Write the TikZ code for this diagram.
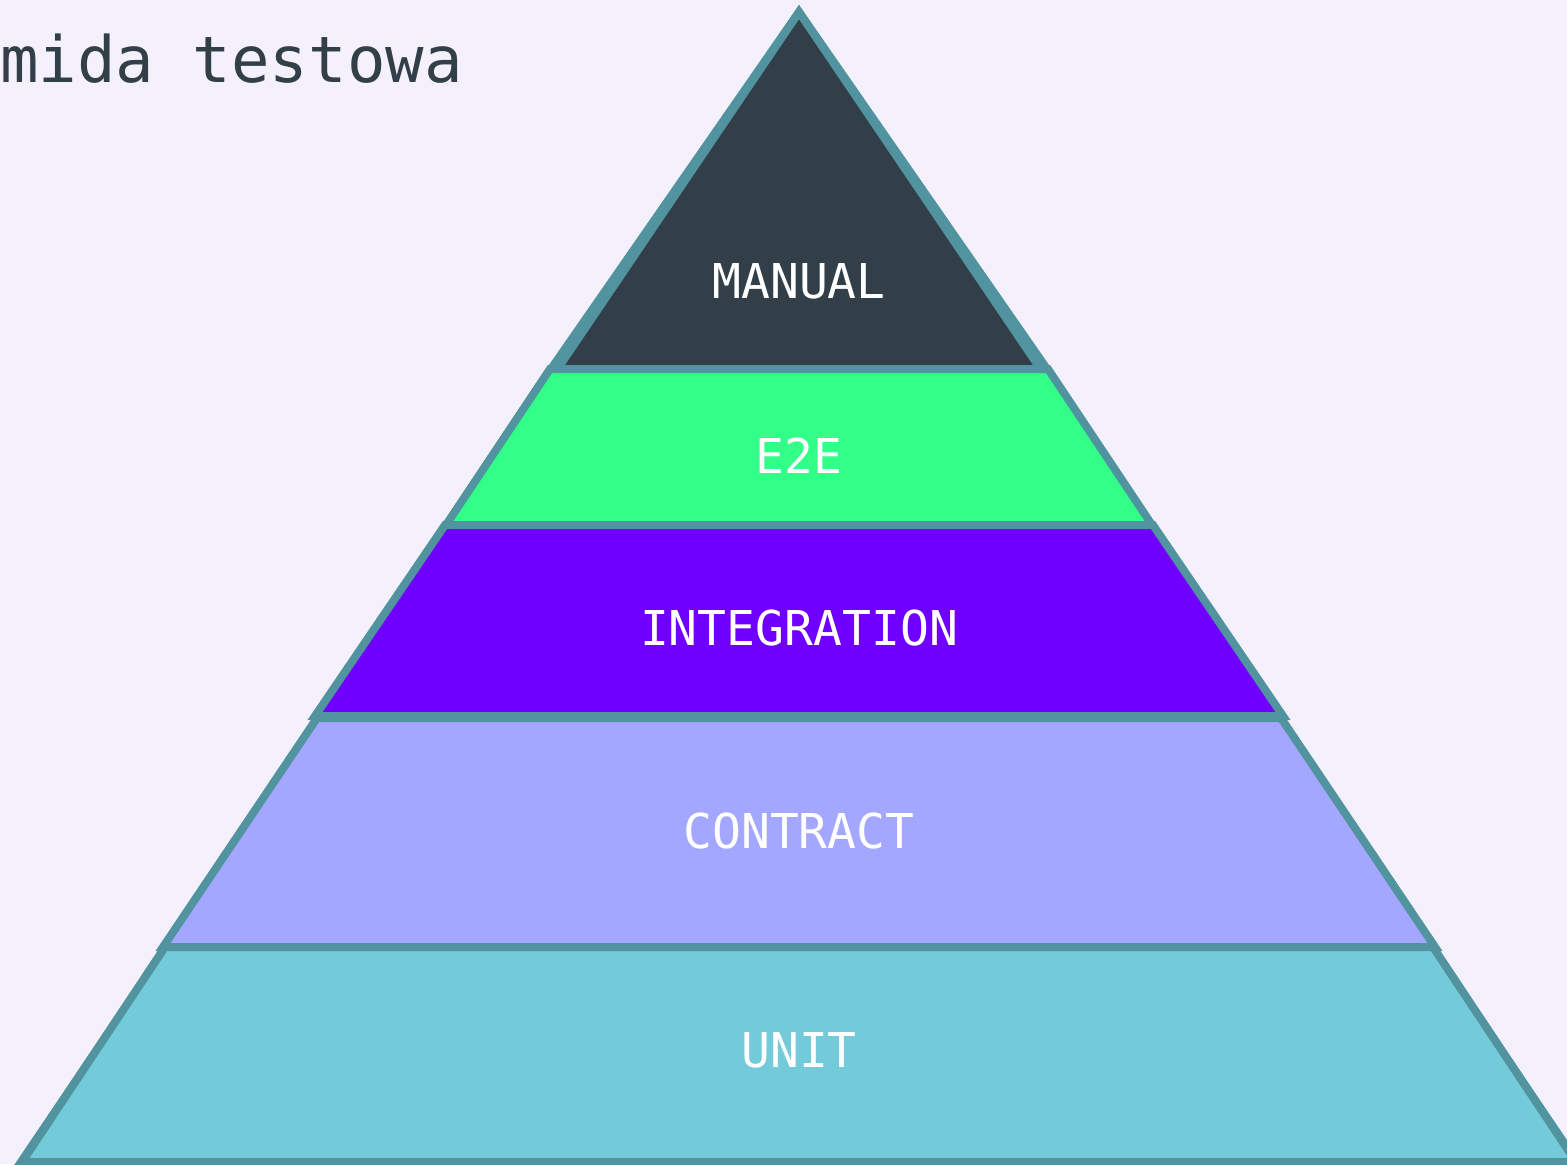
\documentclass[tikz,border=0pt]{standalone}
\usepackage{fontspec}
\newfontfamily\plexmono{DejaVu Sans Mono}
\definecolor{bg}{HTML}{F4F1FD}
\definecolor{edge}{HTML}{5194A0}
\definecolor{dark}{HTML}{333F48}
\definecolor{green}{HTML}{32FF87}
\definecolor{purple}{HTML}{6F00FF}
\definecolor{lavender}{HTML}{A4A7FF}
\definecolor{cyan}{HTML}{73CAD9}
\begin{document}
\begin{tikzpicture}[x=0.75pt,y=-0.75pt,
  layer/.style={draw=edge, line width=6pt, line join=miter, miter limit=10},
  lbl/.style={text=white, font=\plexmono\fontsize{36}{36}\selectfont, inner sep=0pt, anchor=base},
  title/.style={text=dark, font=\plexmono\fontsize{48}{48}\selectfont, inner sep=0pt, anchor=base west}]
\useasboundingbox (0,0) rectangle (1567,1164);
\clip (0,0) rectangle (1567,1164);
\fill[bg] (0,0) rectangle (1567,1164);
% outer pyramid
\fill[dark] (799,12) -- (21,1162) -- (1577,1162) -- cycle;
\filldraw[layer, fill=dark] (799,12) -- (551,369) -- (1047,369) -- cycle;
\draw[layer] (799,12) -- (21,1162) -- (1577,1162) -- cycle;
% layers
\filldraw[layer, fill=green] (550,369) -- (1048,369) -- (1152,525) -- (446,525) -- cycle;
\filldraw[layer, fill=purple] (445,525) -- (1153,525) -- (1283,716) -- (315,716) -- cycle;
\filldraw[layer, fill=lavender] (317,718) -- (1281,718) -- (1435,947) -- (163,947) -- cycle;
\filldraw[layer, fill=cyan] (165,947) -- (1433,947) -- (1576,1162) -- (22,1162) -- cycle;
% labels
\node[lbl] (manual) at (799,298) {MANUAL};
\node[lbl] (e2e) at (799,473) {E2E};
\node[lbl] (integration) at (799,645) {INTEGRATION};
\node[lbl] (contract) at (799,848) {CONTRACT};
\node[lbl] (unit) at (799,1067) {UNIT};
\node[title] (ttl) at (0,82) {mida testowa};
\end{tikzpicture}
\end{document}
